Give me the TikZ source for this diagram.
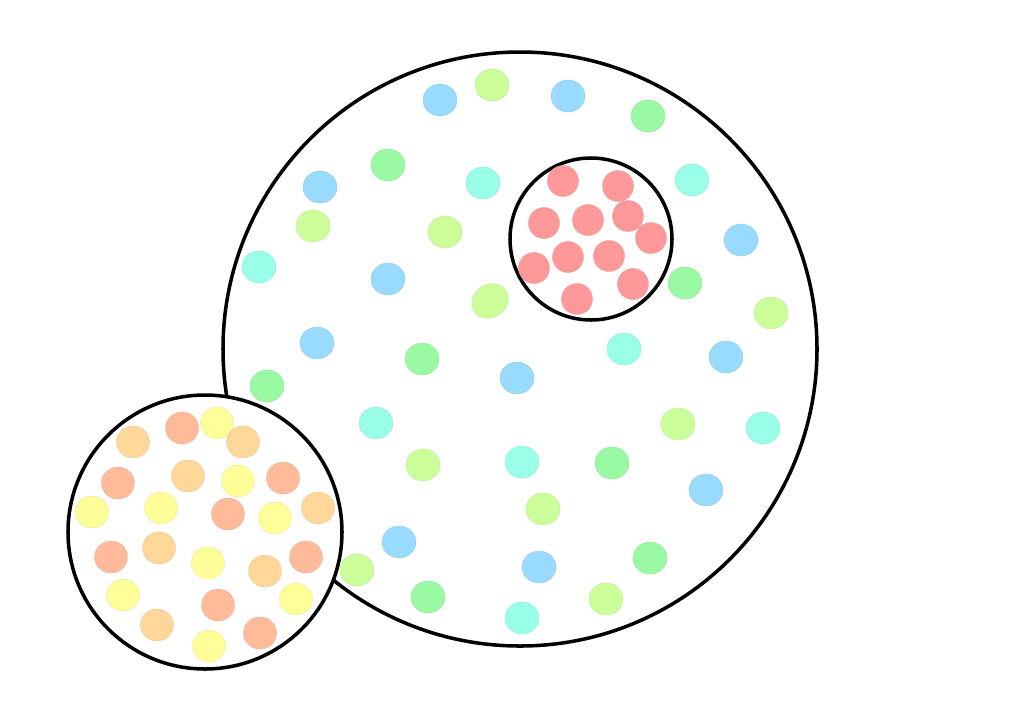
\documentclass[tikz,border=0pt]{standalone}
\usetikzlibrary{positioning}

\definecolor{cblue}{HTML}{99DBFF}
\definecolor{clime}{HTML}{CCFF99}
\definecolor{cgreen}{HTML}{99FAA3}
\definecolor{ccyan}{HTML}{99FFE8}
\definecolor{cred}{HTML}{FF9999}
\definecolor{corange}{HTML}{FFBB99}
\definecolor{cpeach}{HTML}{FFD899}
\definecolor{cyellow}{HTML}{FFFF99}

\tikzset{
  ring/.style={draw=black,line width=2pt,fill=white},
  bead/.style={fill=#1,draw=#1!80!gray,line width=0.2pt}
}

\begin{document}
\begin{tikzpicture}[x=0.02cm,y=-0.02cm]
    \useasboundingbox (0,0) rectangle (1024,724);
    % large population
    \path[ring] (520,349) circle[radius=297];
    \foreach \px/\py/\c in {440/100/cblue,492/85/clime,568/96/cblue,648/116/cgreen,
        388/165/cgreen,320/187/cblue,483/183/ccyan,313/226/clime,445/232/clime,
        692/180/ccyan,741/240/cblue,259/267/ccyan,388/279/cblue,
        685/283/cgreen,771/313/clime,317/343/cblue,422/359/cgreen,624/349/ccyan,
        726/357/cblue,267/386/cgreen,517/378/cblue,376/423/ccyan,423/465/clime,
        522/462/ccyan,612/463/cgreen,678/424/clime,763/428/ccyan,706/490/cblue,
        543/509/clime,399/542/cblue,357/570/clime,539/567/cblue,650/558/cgreen,
        428/597/cgreen,606/599/clime,522/618/ccyan}
      \path[bead=\c] (\px,\py) circle[x radius=17,y radius=16];
    \path[bead=clime,shift={(490,301)},rotate=35] (0,0) circle[x radius=19,y radius=16.5];
    % sample (red)
    \path[ring] (591,239) circle[radius=81];
    \foreach \px/\py in {563/181,618/186,544/223,588/220,628/216,651/238,
        568/257,609/256,534/268,633/284,577/299}
      \path[bead=cred] (\px,\py) circle[radius=15.5];
    % separate population
    \path[ring] (205,532) circle[radius=137];
    \foreach \px/\py/\c in {133/442/cpeach,182/428/corange,217/423/cyellow,243/442/cpeach,
        118/483/corange,188/476/cpeach,238/481/cyellow,283/478/corange,
        92/512/cyellow,161/508/cyellow,228/514/corange,275/518/cyellow,318/508/cpeach,
        111/557/corange,159/548/cpeach,208/563/cyellow,265/571/cpeach,306/557/corange,
        123/595/cyellow,218/605/corange,296/599/cyellow,
        157/625/cpeach,209/646/cyellow,260/633/corange}
      \path[bead=\c] (\px,\py) circle[x radius=16.5,y radius=16];
\end{tikzpicture}
\end{document}
